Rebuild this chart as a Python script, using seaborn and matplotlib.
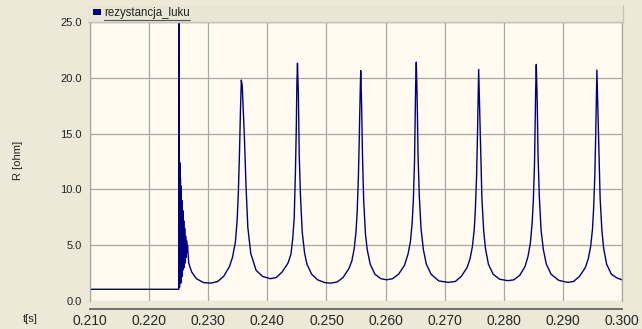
import numpy as np
import pandas as pd
import matplotlib
matplotlib.use("Agg")
import matplotlib.pyplot as plt
from matplotlib.patches import Rectangle
from matplotlib.lines import Line2D
import seaborn as sns

# ---- data: time [s] and arc resistance [ohm] ----
t_before = [0.2100, 0.2250]
r_before = [1.05, 1.05]

# arc ignition: spike and fast oscillation, then decay
t_ignition = [0.22500, 0.22502, 0.22506, 0.22510, 0.22514, 0.22519, 0.22524, 0.22530,
              0.22536, 0.22542, 0.22548, 0.22555, 0.22562, 0.22570, 0.22578, 0.22586,
              0.22594, 0.22602, 0.22610, 0.22618, 0.22626, 0.22634, 0.22642, 0.22650,
              0.22670, 0.22720, 0.22800, 0.22920, 0.23050]
r_ignition = [1.05, 25.0, 1.3, 13.2, 1.2, 12.4, 1.8, 11.0,
              1.6, 10.3, 2.3, 9.0, 2.2, 8.1, 2.8, 7.2,
              3.0, 6.5, 3.4, 5.8, 3.9, 5.4, 4.4, 5.0,
              3.4, 2.6, 2.0, 1.65, 1.6]

t_cycle1 = [0.2316, 0.2326, 0.2336, 0.2341, 0.2346, 0.2349, 0.2351, 0.2353, 0.23545,
            0.2356, 0.23575, 0.2361, 0.2364, 0.2367, 0.2372, 0.2381, 0.2392, 0.2405]
r_cycle1 = [1.75, 2.2, 3.1, 3.9, 5.3, 7.3, 9.8, 13.5, 17.0,
            19.8, 19.3, 15.0, 10.2, 6.6, 4.25, 2.75, 2.2, 2.0]

t_cycle2 = [0.2415, 0.2425, 0.2435, 0.2440, 0.2443, 0.24455, 0.24475, 0.2449, 0.2450,
            0.2451, 0.24525, 0.2454, 0.2456, 0.2459, 0.2463, 0.2467, 0.2475, 0.2485,
            0.2497, 0.2507]
r_cycle2 = [2.1, 2.6, 3.4, 4.2, 5.6, 7.5, 11.5, 15.5, 19.5,
            21.3, 18.5, 13.0, 9.5, 6.2, 4.3, 3.3, 2.4, 1.9,
            1.65, 1.6]

t_cycle3 = [0.2518, 0.2528, 0.2538, 0.2543, 0.2547, 0.2550, 0.2552, 0.2554, 0.25555,
            0.2557, 0.2558, 0.25595, 0.2561, 0.2563, 0.2566, 0.2569, 0.2574, 0.2582,
            0.2592, 0.2602]
r_cycle3 = [1.7, 2.1, 2.9, 3.6, 4.7, 6.2, 8.0, 11.0, 14.5,
            18.5, 20.65, 17.5, 13.0, 9.0, 6.0, 4.6, 3.3, 2.4,
            2.0, 1.9]

t_cycle4 = [0.2612, 0.2622, 0.2632, 0.2638, 0.2642, 0.2645, 0.2647, 0.2649, 0.2650,
            0.2651, 0.2652, 0.26535, 0.2655, 0.2657, 0.2660, 0.2664, 0.2669, 0.2677,
            0.2690, 0.2706]
r_cycle4 = [2.0, 2.4, 3.2, 4.2, 5.3, 7.0, 9.0, 12.5, 16.0,
            19.5, 21.4, 18.0, 13.0, 9.5, 6.5, 4.6, 3.3, 2.4,
            1.8, 1.67]

t_cycle5 = [0.2718, 0.2728, 0.2738, 0.2743, 0.2747, 0.2750, 0.2752, 0.2754, 0.27555,
            0.2757, 0.27575, 0.2759, 0.2761, 0.2763, 0.2766, 0.2769, 0.2774, 0.2782,
            0.2793, 0.2807]
r_cycle5 = [1.75, 2.2, 3.0, 3.8, 4.9, 6.4, 8.3, 11.2, 14.8,
            19.0, 20.75, 17.5, 13.0, 9.2, 6.3, 4.7, 3.3, 2.4,
            1.95, 1.82]

t_cycle6 = [0.2817, 0.2827, 0.2836, 0.2841, 0.2845, 0.2848, 0.2850, 0.2852, 0.2853,
            0.2854, 0.2855, 0.28565, 0.2858, 0.2860, 0.2863, 0.2867, 0.2872, 0.2880,
            0.2893, 0.2908]
r_cycle6 = [1.9, 2.3, 3.1, 4.0, 5.2, 7.0, 9.0, 12.3, 15.5,
            19.0, 21.2, 18.0, 13.0, 9.5, 6.4, 4.6, 3.3, 2.4,
            1.85, 1.67]

t_cycle7 = [0.2918, 0.2928, 0.2938, 0.2943, 0.2947, 0.2950, 0.2952, 0.2954, 0.29555,
            0.2957, 0.29575, 0.2959, 0.2961, 0.2963, 0.2966, 0.2969, 0.2974, 0.2982,
            0.2992, 0.3000]
r_cycle7 = [1.75, 2.2, 3.0, 3.8, 4.9, 6.4, 8.3, 11.2, 14.8,
            19.0, 20.7, 17.5, 13.0, 9.2, 6.3, 4.7, 3.3, 2.4,
            2.05, 1.9]

x_ticks = [0.210, 0.220, 0.230, 0.240, 0.250, 0.260, 0.270, 0.280, 0.290, 0.300]
y_ticks = [0.0, 5.0, 10.0, 15.0, 20.0, 25.0]
series_name = "rezystancja_luku"

t_all = (t_before + t_ignition[1:] + t_cycle1 + t_cycle2 + t_cycle3 + t_cycle4
         + t_cycle5 + t_cycle6 + t_cycle7)
r_all = (r_before + r_ignition[1:] + r_cycle1 + r_cycle2 + r_cycle3 + r_cycle4
         + r_cycle5 + r_cycle6 + r_cycle7)
df = pd.DataFrame({"t": t_all, "R": r_all})

# ---- style ----
fig_bg = "#ece9d8"
plot_bg = "#fffbf0"
line_col = "#00007f"
grid_col = "#a9a9a2"
txt_col = "#222222"
fs = 8
sns.set_style("white", rc={"axes.facecolor": plot_bg, "figure.facecolor": fig_bg})
plt.rcParams["font.family"] = ["Liberation Sans", "DejaVu Sans"]

fig = plt.figure(figsize=(6.42, 3.29), dpi=100)
W, H = 642, 329
ax = fig.add_axes([90 / W, 1 - 301 / H, 532 / W, 279 / H])

sns.lineplot(data=df, x="t", y="R", ax=ax, color=line_col, linewidth=1.0,
             estimator=None, sort=False, legend=False)

ax.set_xlim(0.210, 0.300)
ax.set_ylim(0, 25)
ax.set_xticks(x_ticks)
ax.set_yticks(y_ticks)
ax.set_xticklabels([f"{v:.3f}" for v in x_ticks], fontsize=fs, color=txt_col)
ax.set_yticklabels([f"{v:.1f}" for v in y_ticks], fontsize=fs, color=txt_col)
ax.grid(True, color=grid_col, linewidth=0.9)
ax.set_axisbelow(True)
ax.set_xlabel("")
ax.set_ylabel("")

for side in ["top", "right", "left"]:
    ax.spines[side].set_color(grid_col)
    ax.spines[side].set_linewidth(0.9)
ax.spines["bottom"].set_position(("outward", 5.7))
ax.spines["bottom"].set_color("#6e6e6e")
ax.spines["bottom"].set_linewidth(1.4)
ax.tick_params(axis="x", direction="out", length=3, width=0.8, color="#555555", pad=1.0)
ax.tick_params(axis="y", direction="out", length=4, width=0.8, color="#555555", pad=2)

# axis captions
fig.text(18 / W, 1 - 160 / H, "R [ohm]", rotation=90, ha="center", va="center",
         fontsize=fs, color=txt_col)
fig.text(30 / W, 1 - 319 / H, "t[s]", ha="center", va="center",
         fontsize=fs, color=txt_col)

# legend strip above the plot
fig.patches.append(Rectangle((88 / W, 1 - 22 / H), 535 / W, 16 / H, transform=fig.transFigure,
                             facecolor="#e9e6d6", edgecolor="none", zorder=0))
fig.lines.append(Line2D([88 / W, 623 / W], [1 - 21.5 / H, 1 - 21.5 / H],
                        transform=fig.transFigure, color="#c9c5b4", linewidth=1.0))
fig.lines.append(Line2D([623 / W, 623 / W], [1 - 22 / H, 1 - 5 / H],
                        transform=fig.transFigure, color="#c9c5b4", linewidth=1.0))
fig.patches.append(Rectangle((93 / W, 1 - 15 / H), 8 / W, 6 / H, transform=fig.transFigure,
                             facecolor=line_col, edgecolor="none"))
leg_txt = fig.text(104 / W, 1 - 13 / H, series_name, ha="left", va="center",
                   fontsize=8.3, color=txt_col)
fig.canvas.draw()
bb = leg_txt.get_window_extent().transformed(fig.transFigure.inverted())
fig.lines.append(Line2D([bb.x0, bb.x1], [1 - 19.5 / H, 1 - 19.5 / H],
                        transform=fig.transFigure, color="#555555", linewidth=0.8))

fig.savefig("out.png", dpi=100, facecolor=fig_bg)
